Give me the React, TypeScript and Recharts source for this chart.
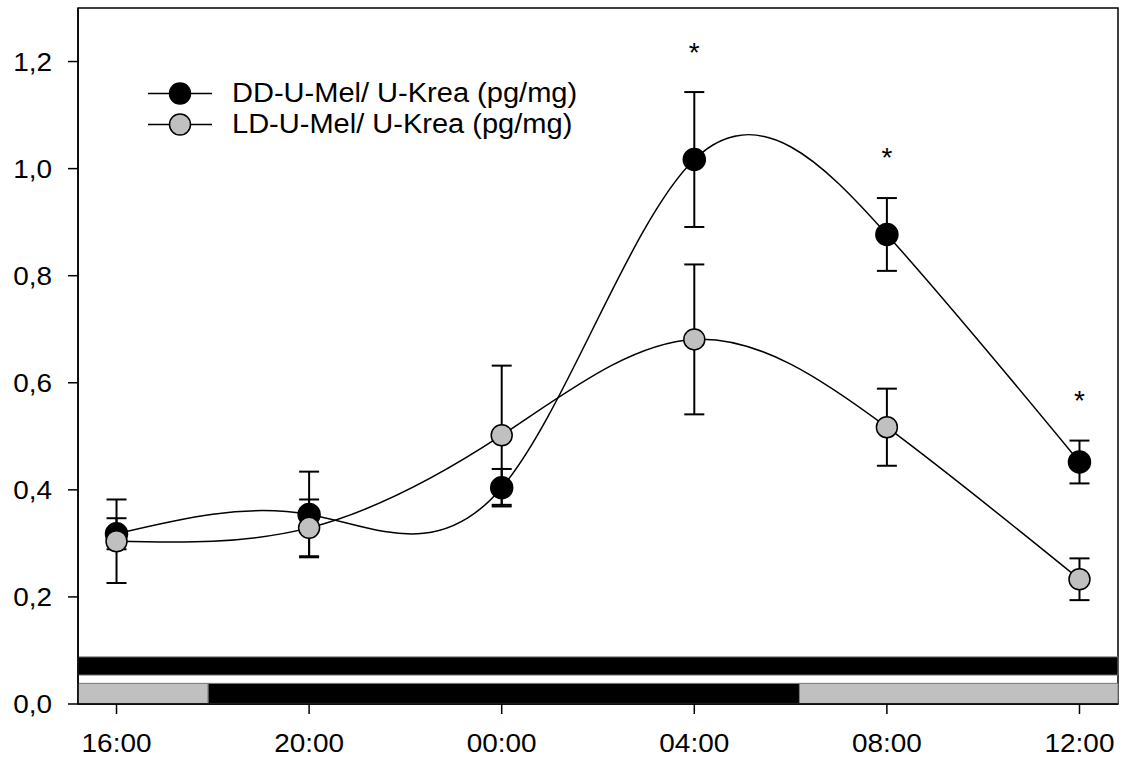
import React from 'react';
import {
  ComposedChart,
  Line,
  XAxis,
  YAxis,
  ErrorBar,
  ReferenceArea,
  Legend,
  LabelList,
} from 'recharts';

// Sampling times (positions 0..5 on the x axis)
const timeLabels = ['16:00', '20:00', '00:00', '04:00', '08:00', '12:00'];

// Urinary melatonin / creatinine, constant darkness (DD)
const ddMean = [0.318, 0.354, 0.404, 1.017, 0.877, 0.452];
const ddSem = [0.029, 0.08, 0.035, 0.126, 0.068, 0.04];

// Urinary melatonin / creatinine, light-dark cycle (LD)
const ldMean = [0.304, 0.329, 0.502, 0.681, 0.517, 0.233];
const ldSem = [0.078, 0.053, 0.13, 0.14, 0.072, 0.039];

// Significance markers (height of the asterisk), null = not significant
const sigLevel = [null, null, null, 1.222, 1.025, 0.572];

const yTicks = [0, 0.2, 0.4, 0.6, 0.8, 1.0, 1.2];
const xTicks = [0, 1, 2, 3, 4, 5];

// Lighting schedule bars (x positions on the time axis)
const ddSchedule = [{ from: -0.2, to: 5.2, dark: true }];
const ldSchedule = [
  { from: -0.2, to: 0.476, dark: false },
  { from: 0.476, to: 3.546, dark: true },
  { from: 3.546, to: 5.2, dark: false },
];

const GRAY = '#C0C0C0';
const FONT = '"Liberation Sans", Arial, Helvetica, sans-serif';
const TEXT_STRETCH = 1.075;

const data = timeLabels.map((label, i) => ({
  t: i,
  label,
  dd: ddMean[i],
  ddErr: ddSem[i],
  ld: ldMean[i],
  ldErr: ldSem[i],
  sig: sigLevel[i],
}));

const seriesStyle: Record<string, { fill: string; name: string }> = {
  dd: { fill: '#000000', name: 'DD-U-Mel/ U-Krea (pg/mg)' },
  ld: { fill: GRAY, name: 'LD-U-Mel/ U-Krea (pg/mg)' },
};

const fmtY = (v: number) => v.toFixed(1).replace('.', ',');
const fmtX = (v: number) => timeLabels[v] ?? '';

const XTick = (props: any) => {
  const { x, y, payload } = props;
  return (
    <g transform={`translate(${x},${y})`}>
      <text
        transform={`scale(${TEXT_STRETCH},1)`}
        textAnchor="middle"
        dy="0.71em"
        fontFamily={FONT}
        fontSize={26}
        fill="#000"
      >
        {fmtX(payload.value)}
      </text>
    </g>
  );
};

const YTick = (props: any) => {
  const { x, y, payload } = props;
  return (
    <g transform={`translate(${x},${y})`}>
      <text
        transform={`scale(${TEXT_STRETCH},1)`}
        textAnchor="end"
        dy="0.355em"
        fontFamily={FONT}
        fontSize={26}
        fill="#000"
      >
        {fmtY(payload.value)}
      </text>
    </g>
  );
};

const renderLegend = () => (
  <div style={{ fontFamily: FONT, fontSize: 27, color: '#000' }}>
    {['dd', 'ld'].map((key) => (
      <div key={key} style={{ display: 'flex', alignItems: 'center', height: 31 }}>
        <svg width={66} height={31} style={{ display: 'block' }}>
          <line x1={1} y1={15.5} x2={65} y2={15.5} stroke="#000" strokeWidth={1.5} />
          <circle cx={33} cy={15.5} r={10.5} fill={seriesStyle[key].fill} stroke="#000" strokeWidth={1.5} />
        </svg>
        <span
          style={{
            marginLeft: 19,
            whiteSpace: 'nowrap',
            lineHeight: '31px',
            display: 'inline-block',
            transform: `scaleX(${TEXT_STRETCH})`,
            transformOrigin: 'left center',
          }}
        >
          {seriesStyle[key].name}
        </span>
      </div>
    ))}
  </div>
);

const renderStar = (props: any) => {
  const { x, y, value } = props;
  if (value === null || value === undefined || y === null || y === undefined || Number.isNaN(y)) return null;
  return (
    <text x={x} y={y + 12} textAnchor="middle" fontFamily={FONT} fontSize={28} fill="#000">
      *
    </text>
  );
};

export default function App() {
  return (
    <div style={{ position: 'absolute', left: 0, top: 0, background: '#fff' }}>
      <ComposedChart
        width={1124}
        height={757}
        data={data}
        margin={{ top: 8, right: 6, bottom: 8, left: 8 }}
      >
        <XAxis
          dataKey="t"
          type="number"
          domain={[-0.2, 5.2]}
          ticks={xTicks}
          allowDataOverflow
          height={45}
          tickSize={10}
          tickMargin={20}
          axisLine={{ stroke: '#000', strokeWidth: 1.5 }}
          tickLine={{ stroke: '#000', strokeWidth: 1.5 }}
          tick={<XTick />}
        />
        <YAxis
          type="number"
          domain={[0, 1.3]}
          ticks={yTicks}
          allowDataOverflow
          width={70}
          tickSize={10}
          tickMargin={16}
          axisLine={{ stroke: '#000', strokeWidth: 1.5 }}
          tickLine={{ stroke: '#000', strokeWidth: 1.5 }}
          tick={<YTick />}
        />

        {/* plot frame */}
        <ReferenceArea
          x1={-0.2}
          x2={5.2}
          y1={0}
          y2={1.3}
          fill="none"
          fillOpacity={0}
          stroke="#000"
          strokeWidth={1.5}
          ifOverflow="visible"
        />

        {/* lighting schedule: DD row */}
        {ddSchedule.map((p, i) => (
          <ReferenceArea
            key={`dd-${i}`}
            x1={p.from}
            x2={p.to}
            y1={0.054}
            y2={0.088}
            fill={p.dark ? '#000' : GRAY}
            fillOpacity={1}
            stroke="#777"
            strokeWidth={1}
            ifOverflow="visible"
          />
        ))}
        {/* lighting schedule: LD row */}
        {ldSchedule.map((p, i) => (
          <ReferenceArea
            key={`ld-${i}`}
            x1={p.from}
            x2={p.to}
            y1={0.001}
            y2={0.0385}
            fill={p.dark ? '#000' : GRAY}
            fillOpacity={1}
            stroke="#777"
            strokeWidth={1}
            ifOverflow="visible"
          />
        ))}

        <Line
          dataKey="dd"
          name={seriesStyle.dd.name}
          type="natural"
          stroke="#000"
          strokeWidth={1.5}
          dot={{ r: 11, fill: '#000', stroke: '#000', strokeWidth: 1.5 }}
          activeDot={false}
          isAnimationActive={false}
        >
          <ErrorBar dataKey="ddErr" direction="y" width={10} stroke="#000" strokeWidth={2} />
        </Line>
        <Line
          dataKey="ld"
          name={seriesStyle.ld.name}
          type="natural"
          stroke="#000"
          strokeWidth={1.5}
          dot={{ r: 10.5, fill: GRAY, stroke: '#000', strokeWidth: 1.5 }}
          activeDot={false}
          isAnimationActive={false}
        >
          <ErrorBar dataKey="ldErr" direction="y" width={10} stroke="#000" strokeWidth={2} />
        </Line>
        <Line
          dataKey="sig"
          stroke="none"
          dot={false}
          activeDot={false}
          legendType="none"
          isAnimationActive={false}
        >
          <LabelList dataKey="sig" content={renderStar} />
        </Line>

        <Legend
          layout="horizontal"
          verticalAlign="middle"
          align="center"
          content={renderLegend}
          wrapperStyle={{ top: 78, left: 147, width: 'auto', height: 'auto' }}
        />
      </ComposedChart>
    </div>
  );
}
